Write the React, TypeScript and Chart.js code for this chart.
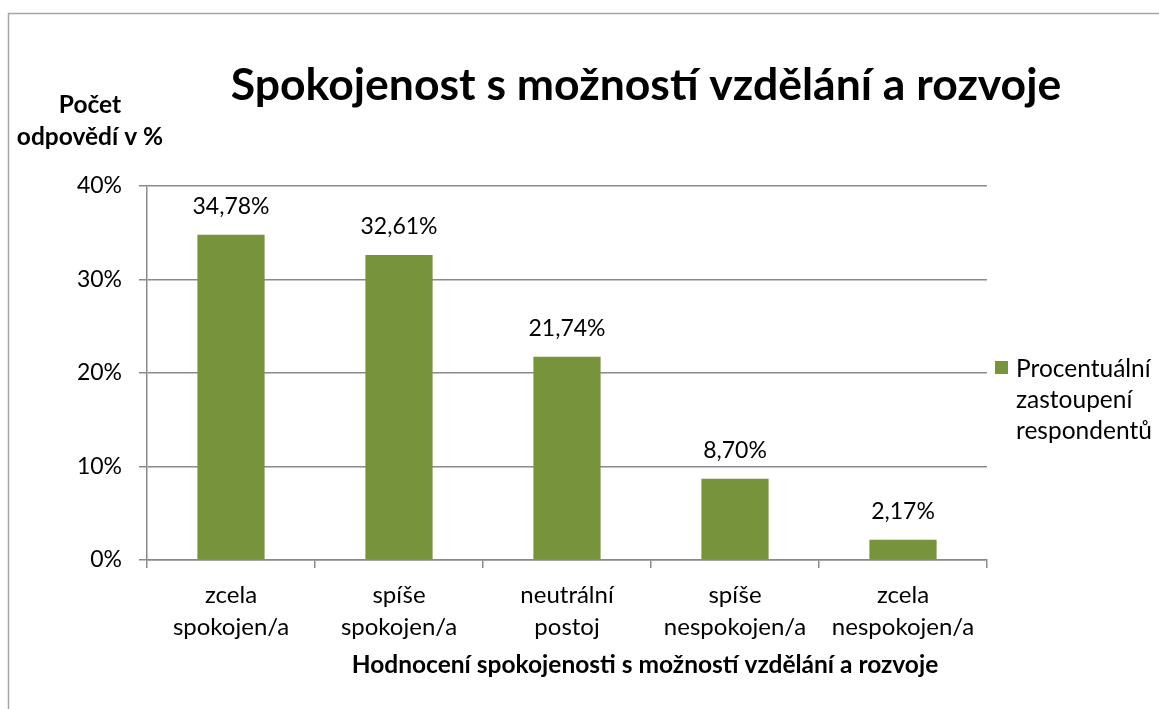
import React, { useEffect, useRef } from "react";
import { Chart, registerables } from "chart.js";

Chart.register(...registerables);

const categories: string[][] = [
  ["zcela", "spokojen/a"],
  ["spíše", "spokojen/a"],
  ["neutrální", "postoj"],
  ["spíše", "nespokojen/a"],
  ["zcela", "nespokojen/a"],
];
const values: number[] = [34.78, 32.61, 21.74, 8.7, 2.17];
const seriesLabel: string[] = ["Procentuální", "zastoupení", "respondentů"];
const chartTitle = "Spokojenost s možností vzdělání a rozvoje";
const yAxisTitle: string[] = ["Počet", "odpovědí v %"];
const xAxisTitle = "Hodnocení spokojenosti s možností vzdělání a rozvoje";
const yMin = 0;
const yMax = 40;
const yStep = 10;

const FONT = "Lato, Carlito, 'Open Sans', sans-serif";
const BAR_COLOR = "#77933C";
const GRID_COLOR = "#8a8a8a";

const fmt = (v: number) => v.toFixed(2).replace(".", ",") + "%";

const overlay = {
  id: "overlay",
  afterDraw(chart: any) {
    const ctx = chart.ctx as CanvasRenderingContext2D;
    const W = chart.width;
    const H = chart.height;
    ctx.save();
    // outer border
    ctx.strokeStyle = "#a6a6a6";
    ctx.lineWidth = 1.5;
    ctx.beginPath();
    ctx.moveTo(8.5, H);
    ctx.lineTo(8.5, 13.5);
    ctx.lineTo(W, 13.5);
    ctx.stroke();

    ctx.fillStyle = "#000";
    ctx.textBaseline = "alphabetic";
    // title
    ctx.font = `bold 44.5px ${FONT}`;
    ctx.textAlign = "center";
    ctx.fillText(chartTitle, 646, 100);

    // y axis title
    ctx.font = `bold 24.5px ${FONT}`;
    yAxisTitle.forEach((line, i) => ctx.fillText(line, 90, 113 + i * 32));

    // x axis title
    ctx.font = `bold 24.5px ${FONT}`;
    ctx.fillText(xAxisTitle, 645, 673);

    // data labels
    ctx.font = `23px ${FONT}`;
    const meta = chart.getDatasetMeta(0);
    meta.data.forEach((bar: any, i: number) => {
      ctx.fillText(fmt(values[i]), bar.x, bar.y - 21);
    });

    // legend
    ctx.fillStyle = BAR_COLOR;
    ctx.fillRect(995, 361, 13, 13);
    ctx.fillStyle = "#000";
    ctx.textAlign = "left";
    ctx.font = `24.5px ${FONT}`;
    seriesLabel.forEach((line, i) => ctx.fillText(line, 1016, 377 + i * 31));
    ctx.restore();
  },
};

export default function App() {
  const ref = useRef<HTMLCanvasElement | null>(null);
  useEffect(() => {
    if (!ref.current) return;
    const chart = new Chart(ref.current, {
      type: "bar",
      data: {
        labels: categories,
        datasets: [
          {
            label: seriesLabel.join(" "),
            data: values,
            backgroundColor: BAR_COLOR,
            borderWidth: 0,
            barPercentage: 0.4,
            categoryPercentage: 1,
          },
        ],
      },
      options: {
        animation: false,
        responsive: false,
        layout: { padding: { left: 0, top: 186, right: 172, bottom: 0 } },
        plugins: {
          legend: { display: false },
          title: { display: false },
          tooltip: { enabled: false },
        },
        scales: {
          x: {
            afterFit: (s: any) => {
              s.height = 149;
            },
            grid: {
              display: true,
              drawOnChartArea: false,
              drawTicks: true,
              tickLength: 8,
              color: GRID_COLOR,
              lineWidth: 1.5,
              offset: true,
            },
            border: { display: true, color: GRID_COLOR, width: 1.5 },
            ticks: {
              color: "#000",
              font: { family: FONT, size: 24, lineHeight: 1.34 },
              padding: 11,
              maxRotation: 0,
              autoSkip: false,
            },
          },
          y: {
            min: yMin,
            max: yMax,
            afterFit: (s: any) => {
              s.width = 147;
            },
            grid: {
              color: GRID_COLOR,
              lineWidth: 1.5,
              tickLength: 8,
              drawTicks: true,
            },
            border: { display: true, color: GRID_COLOR, width: 1.5 },
            ticks: {
              stepSize: yStep,
              color: "#000",
              padding: 17,
              font: { family: FONT, size: 23 },
              callback: (v: any) => v + "%",
            },
          },
        },
      },
      plugins: [overlay],
    });
    return () => chart.destroy();
  }, []);
  return (
    <div style={{ position: "absolute", left: 0, top: 0, width: 1159, height: 709, background: "#fff" }}>
      <canvas ref={ref} width={1159} height={709} />
    </div>
  );
}
